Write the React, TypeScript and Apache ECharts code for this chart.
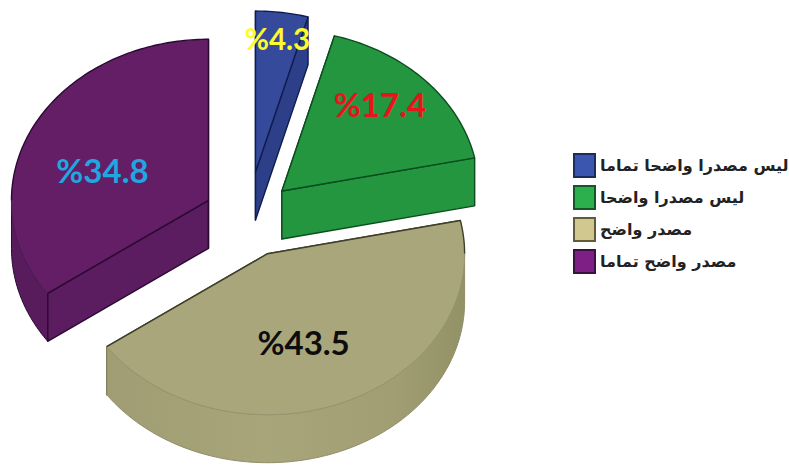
import React, { useEffect, useRef } from "react";
import * as echarts from "echarts";

// Survey answers, clockwise from twelve o'clock.
const categories = [
  "ليس مصدرا واضحا تماما",
  "ليس مصدرا واضحا",
  "مصدر واضح",
  "مصدر واضح تماما",
];
const shares = [4.3, 17.4, 43.5, 34.8];

// Tilted-disc projection.
const center = { x: 248, y: 217 };
const radiusX = 197;
const radiusY = 161;
const depth = 48;
const explode = [55.5, 46.5, 49, 44.5];
const labelOffset = [
  [22, -134],
  [98, -87],
  [36, 88],
  [-106, -30],
];
const labelSizes = [29.5, 33, 33, 33];

const labelColors = ["#fdfb2c", "#e8141c", "#0d0d0d", "#1ea7e0"];
const topColors = ["#364a9c", "#23963f", "#a9a67b", "#631e66"];
const edgeColors = ["#101c4e", "#0b4d1d", "#3f3f2a", "#2a0a33"];
const rimColors = ["#101c4e", "#0b4d1d", "#979570", "#581b5c"];
const sideColors = ["#2c3f88", "#23963f", "#a5a276", "#5b1c60"];
const legendFill = ["#3a56ae", "#2cb04e", "#d0c88e", "#7d1f84"];
const legendBorder = ["#1c2c5c", "#14552a", "#5f5c3c", "#3a1240"];

const total = shares.reduce((a, b) => a + b, 0);
const DEG = Math.PI / 180;

function sweep(i: number): [number, number] {
  const before = shares.slice(0, i).reduce((a, b) => a + b, 0);
  return [(before / total) * 360, ((before + shares[i]) / total) * 360];
}

function arc(ax: number, ay: number, from: number, to: number, drop = 0) {
  const pts: number[][] = [];
  const steps = Math.max(2, Math.ceil(Math.abs(to - from)));
  for (let s = 0; s <= steps; s++) {
    const t = (from + ((to - from) * s) / steps) * DEG;
    pts.push([ax + radiusX * Math.sin(t), ay - radiusY * Math.cos(t) + drop]);
  }
  return pts;
}

function wallFill(i: number) {
  if (i !== 2) return sideColors[i];
  return {
    type: "linear",
    x: 0,
    y: 0,
    x2: 1,
    y2: 0,
    colorStops: [
      { offset: 0, color: "#a09d74" },
      { offset: 0.45, color: "#a8a57a" },
      { offset: 0.8, color: "#a09e72" },
      { offset: 1, color: "#939166" },
    ],
  };
}

function renderSlice(i: number) {
  return (_params: unknown, api: any) => {
    const value = api.value(0);
    const [a0, a1] = sweep(i);
    const mid = ((a0 + a1) / 2) * DEG;
    const ax = center.x + explode[i] * Math.sin(mid);
    const ay = center.y - explode[i] * (radiusY / radiusX) * Math.cos(mid);
    const rim = arc(ax, ay, a0, a1);
    const children: any[] = [];
    const edge = { stroke: edgeColors[i], lineWidth: 1.4, lineJoin: "round" };

    // Straight cut faces run from the hub down to the rim.
    for (const ang of [a0, a1]) {
      const [end] = arc(ax, ay, ang, ang);
      children.push({
        type: "polygon",
        shape: {
          points: [
            [ax, ay],
            end,
            [end[0], end[1] + depth],
            [ax, ay + depth],
          ],
        },
        style: { fill: sideColors[i], ...edge },
      });
    }

    // Curved outer wall, only where it faces the viewer.
    const w0 = Math.max(a0, 90);
    const w1 = Math.min(a1, 270);
    if (w1 > w0) {
      const upper = arc(ax, ay, w0, w1);
      const lower = arc(ax, ay, w0, w1, depth).reverse();
      children.push({
        type: "polygon",
        shape: { points: [...upper, ...lower] },
        style: {
          fill: i === 2 ? wallFill(i) : i === 3 ? "#581b5c" : sideColors[i],
          stroke: i === 2 ? "#8f8d68" : edgeColors[i],
          lineWidth: 1,
        },
      });
    }

    // Top face, filled first and outlined afterwards.
    children.push({
      type: "polygon",
      shape: { points: [[ax, ay], ...rim] },
      style: { fill: topColors[i] },
    });
    children.push({
      type: "polyline",
      shape: { points: [rim[rim.length - 1], [ax, ay], rim[0]] },
      style: { fill: "none", ...edge },
    });
    for (let a = a0; a < a1; ) {
      const front = a >= 90 && a < 270;
      const stop = Math.min(a1, a < 90 ? 90 : a < 270 ? 270 : 360);
      children.push({
        type: "polyline",
        shape: { points: arc(ax, ay, a, stop) },
        style: {
          fill: "none",
          stroke: front ? rimColors[i] : edgeColors[i],
          lineWidth: front ? 1 : 1.4,
        },
      });
      a = stop;
    }

    children.push({
      type: "text",
      x: ax + labelOffset[i][0],
      y: ay + labelOffset[i][1],
      style: {
        text: `%${value}`,
        fill: labelColors[i],
        font: `bold ${labelSizes[i]}px Lato, "Open Sans", sans-serif`,
        textAlign: "center",
        textVerticalAlign: "middle",
      },
    });
    return { type: "group", children };
  };
}

export default function App() {
  const ref = useRef<HTMLDivElement>(null);
  useEffect(() => {
    const chart = echarts.init(ref.current!, null, { renderer: "svg" });
    chart.setOption({
      animation: false,
      backgroundColor: "#ffffff",
      legend: {
        orient: "vertical",
        left: 573,
        top: 153,
        padding: 0,
        itemWidth: 21,
        itemHeight: 23,
        itemGap: 7,
        selectedMode: false,
        icon: "rect",
        textStyle: {
          fontFamily: '"DejaVu Sans", sans-serif',
          fontSize: 16,
          fontWeight: "bold",
          color: "#222222",
        },
        data: categories.map((name, i) => ({
          name,
          itemStyle: {
            color: legendFill[i],
            borderColor: legendBorder[i],
            borderWidth: 2,
          },
        })),
      },
      series: categories.map((name, i) => ({
        type: "custom",
        name,
        coordinateSystem: "none",
        silent: true,
        itemStyle: { color: legendFill[i] },
        data: [[shares[i]]],
        renderItem: renderSlice(i),
      })),
    });
    return () => chart.dispose();
  }, []);
  return (
    <div
      ref={ref}
      style={{ position: "absolute", left: 0, top: 0, width: 789, height: 466 }}
    />
  );
}
